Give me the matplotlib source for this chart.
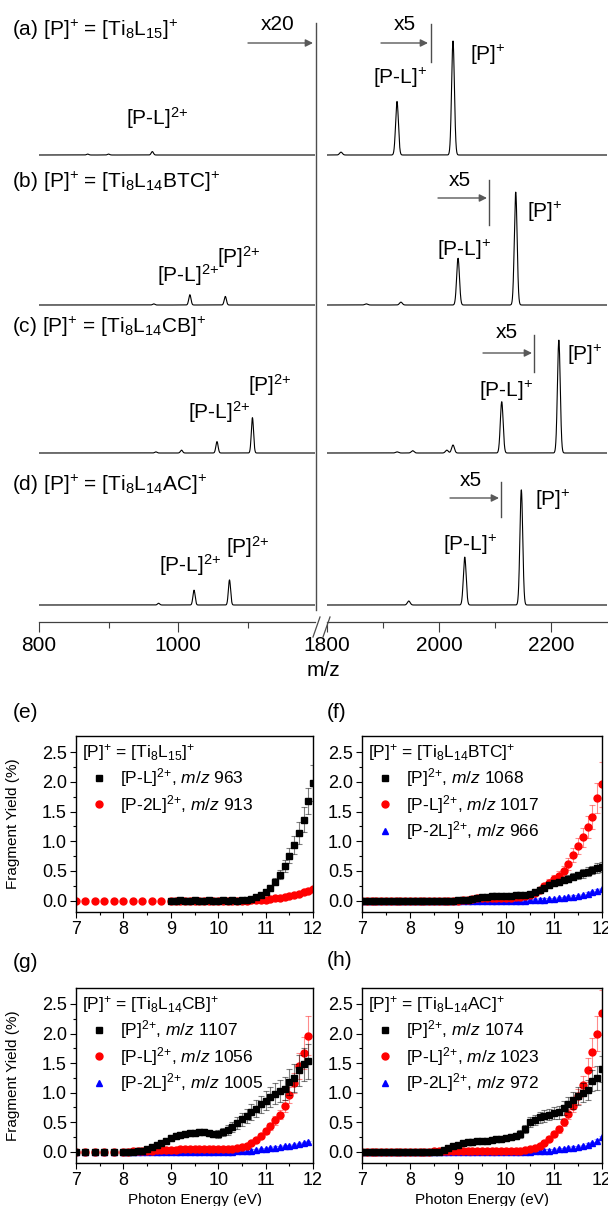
import numpy as np
import matplotlib
matplotlib.use("Agg")
import matplotlib.pyplot as plt
from matplotlib.lines import Line2D
from matplotlib.patches import FancyArrowPatch

plt.rcParams["font.family"] = ["Liberation Sans", "DejaVu Sans"]
plt.rcParams["mathtext.fontset"] = "custom"
plt.rcParams["mathtext.rm"] = "Liberation Sans"
plt.rcParams["mathtext.it"] = "Liberation Sans:italic"
plt.rcParams["mathtext.bf"] = "Liberation Sans:bold"

# %% mass spectra (a)-(d): peak centres (m/z) and heights (relative to [P]+)
a_lo_mz = [870, 900, 963]
a_lo_h = [0.008, 0.008, 0.03]
a_hi_mz = [1825, 1925, 2025]
a_hi_h = [0.025, 0.47, 1.0]

b_lo_mz = [965, 1017, 1068]
b_lo_h = [0.01, 0.09, 0.075]
b_hi_mz = [1870, 1932, 2034, 2137]
b_hi_h = [0.01, 0.025, 0.41, 0.99]

c_lo_mz = [968, 1005, 1056, 1107]
c_lo_h = [0.01, 0.025, 0.10, 0.31]
c_hi_mz = [1925, 1953, 2014, 2025, 2112, 2214]
c_hi_h = [0.01, 0.02, 0.025, 0.07, 0.45, 0.99]

d_lo_mz = [972, 1023, 1074]
d_lo_h = [0.015, 0.13, 0.22]
d_hi_mz = [1946, 2046, 2147]
d_hi_h = [0.035, 0.42, 1.01]

P2 = r"$^{\text{2+}}$"
P1 = r"$^{+}$"
row_titles = [
    r"(a) [P]$^{+}$ = [Ti$_{8}$L$_{15}$]$^{+}$",
    r"(b) [P]$^{+}$ = [Ti$_{8}$L$_{14}$BTC]$^{+}$",
    r"(c) [P]$^{+}$ = [Ti$_{8}$L$_{14}$CB]$^{+}$",
    r"(d) [P]$^{+}$ = [Ti$_{8}$L$_{14}$AC]$^{+}$",
]

# %% fragment yields (e)-(h), photon energy in eV, yield in %
E_e_red = [7.0, 7.2, 7.4, 7.6, 7.8, 8.0, 8.2, 8.4, 8.6, 8.8] + list(np.round(np.arange(9.0, 12.01, 0.1), 1))
E_e_blk = list(np.round(np.arange(9.0, 12.01, 0.1), 1))
e_blk = [0.00, 0.00, 0.01, 0.00, 0.00, 0.01, 0.00, 0.00, 0.01, 0.00, 0.00, 0.01, 0.00, 0.01, 0.00, 0.01, 0.02,
         0.03, 0.06, 0.09, 0.14, 0.22, 0.32, 0.44, 0.58, 0.76, 0.93, 1.14, 1.36, 1.67, 1.98]
e_blk_err = [0.02] * 17 + [0.02, 0.03, 0.03, 0.04, 0.05, 0.06, 0.08, 0.10, 0.12, 0.15, 0.18, 0.21, 0.22, 0.30]
e_red = [0.00] * 10 + [0.00] * 17 + [0.01, 0.01, 0.02, 0.02, 0.03, 0.04, 0.05, 0.06, 0.08, 0.10, 0.12, 0.15, 0.17, 0.20]
e_red_err = [0.01] * 27 + [0.01, 0.01, 0.01, 0.01, 0.01, 0.01, 0.02, 0.02, 0.02, 0.02, 0.02, 0.02, 0.03, 0.03]

E_f = list(np.round(np.arange(7.0, 12.01, 0.1), 1))
f_blk = [0.00] * 20 + [0.01] + \
    [0.01, 0.02, 0.03, 0.05, 0.06, 0.07, 0.08, 0.08, 0.08, 0.08, 0.08, 0.09, 0.09] + \
    [0.10, 0.12, 0.15, 0.18, 0.22, 0.26, 0.29, 0.31, 0.34, 0.37, 0.40, 0.43, 0.46, 0.49, 0.52, 0.55, 0.57]
f_blk_err = [0.02] * 21 + [0.03] * 13 + \
    [0.03, 0.03, 0.04, 0.04, 0.04, 0.05, 0.05, 0.05, 0.05, 0.06, 0.06, 0.06, 0.07, 0.07, 0.07, 0.08, 0.08]
f_red = [0.00] * 21 + \
    [0.01, 0.02, 0.03, 0.04, 0.05, 0.05, 0.05, 0.05, 0.05, 0.05, 0.05, 0.06, 0.07] + \
    [0.08, 0.10, 0.13, 0.18, 0.24, 0.30, 0.36, 0.42, 0.50, 0.62, 0.77, 0.92, 1.07, 1.24, 1.41, 1.73, 1.96]
f_red_err = [0.02] * 21 + [0.03] * 13 + \
    [0.03, 0.03, 0.04, 0.04, 0.05, 0.06, 0.07, 0.08, 0.09, 0.10, 0.12, 0.14, 0.16, 0.18, 0.20, 0.25, 0.38]
f_blu = [0.00] * 34 + \
    [0.00, 0.01, 0.01, 0.02, 0.02, 0.03, 0.03, 0.04, 0.05, 0.06, 0.07, 0.08, 0.10, 0.12, 0.14, 0.17, 0.20]
f_blu_err = [0.02] * 51

E_g = [7.0, 7.2, 7.4, 7.6, 7.8] + list(np.round(np.arange(8.0, 11.91, 0.1), 1))
g_blk = [0.00] * 5 + \
    [0.00, 0.00, 0.00, 0.01, 0.02, 0.05, 0.08, 0.11, 0.15, 0.19,
     0.23, 0.26, 0.28, 0.30, 0.31, 0.32, 0.33, 0.33, 0.32, 0.30,
     0.30, 0.33, 0.37, 0.42, 0.48, 0.55, 0.60, 0.67, 0.73, 0.80,
     0.86, 0.92, 0.98, 1.03, 1.07, 1.18, 1.25, 1.38, 1.48, 1.53]
g_blk_err = [0.02] * 5 + \
    [0.02, 0.02, 0.02, 0.03, 0.03, 0.03, 0.04, 0.04, 0.04, 0.05,
     0.05, 0.05, 0.05, 0.05, 0.05, 0.05, 0.05, 0.05, 0.05, 0.05,
     0.06, 0.07, 0.08, 0.09, 0.10, 0.11, 0.12, 0.13, 0.14, 0.15,
     0.16, 0.17, 0.18, 0.19, 0.20, 0.22, 0.24, 0.26, 0.28, 0.30]
g_red = [0.00] * 5 + \
    [0.00, 0.00, 0.01, 0.01, 0.02, 0.02, 0.02, 0.03, 0.03, 0.03,
     0.03, 0.03, 0.04, 0.04, 0.04, 0.04, 0.04, 0.04, 0.04, 0.04,
     0.04, 0.04, 0.04, 0.05, 0.06, 0.08, 0.10, 0.14, 0.20, 0.27,
     0.35, 0.43, 0.53, 0.63, 0.77, 0.96, 1.16, 1.45, 1.67, 1.96]
g_red_err = [0.02] * 25 + \
    [0.02, 0.02, 0.02, 0.02, 0.02, 0.03, 0.03, 0.03, 0.04, 0.04,
     0.05, 0.06, 0.07, 0.08, 0.10, 0.13, 0.17, 0.22, 0.27, 0.33]
g_blu = [0.00] * 28 + \
    [0.00, 0.01, 0.01, 0.02, 0.02, 0.03, 0.04, 0.05, 0.06, 0.07, 0.08, 0.09, 0.10, 0.11, 0.13, 0.15, 0.17]
g_blu_err = [0.02] * 45

E_h = list(np.round(np.arange(7.0, 12.01, 0.1), 1))
h_blk = [0.00] * 17 + \
    [0.03, 0.07, 0.10, 0.12, 0.14, 0.16, 0.17, 0.18, 0.18, 0.19, 0.20, 0.21, 0.22, 0.24, 0.25, 0.27, 0.30,
     0.38, 0.50, 0.54, 0.58, 0.60, 0.63, 0.65, 0.67, 0.74, 0.80, 0.87, 0.94, 1.00, 1.04, 1.20, 1.25, 1.40]
h_blk_err = [0.02] * 17 + \
    [0.03, 0.03, 0.03, 0.03, 0.04, 0.04, 0.04, 0.04, 0.04, 0.04, 0.04, 0.04, 0.05, 0.05, 0.05, 0.05, 0.06,
     0.07, 0.08, 0.09, 0.09, 0.10, 0.10, 0.10, 0.11, 0.12, 0.13, 0.14, 0.15, 0.16, 0.17, 0.18, 0.20, 0.22]
h_red = [0.00] * 15 + [0.01, 0.01, 0.02, 0.02, 0.02, 0.02, 0.02, 0.02, 0.02, 0.02,
                       0.02, 0.02, 0.02, 0.02, 0.02, 0.02, 0.02, 0.02, 0.02, 0.03] + \
    [0.04, 0.06, 0.10, 0.15, 0.22, 0.30, 0.38, 0.50, 0.64, 0.78, 0.94, 1.13, 1.38, 1.68, 2.00, 2.35]
h_red_err = [0.02] * 35 + \
    [0.02, 0.02, 0.03, 0.03, 0.04, 0.05, 0.06, 0.07, 0.09, 0.11, 0.13, 0.16, 0.20, 0.25, 0.30, 0.38]
h_blu = [0.00] * 36 + \
    [0.01, 0.01, 0.02, 0.02, 0.03, 0.04, 0.05, 0.06, 0.07, 0.08, 0.10, 0.12, 0.15, 0.19, 0.25]
h_blu_err = [0.02] * 51

# %% layout helpers (pixel positions on a 608 x 1206 canvas)
W, H = 608, 1206


def rect(x0, y0, x1, y1):
    return [x0 / W, 1 - y1 / H, (x1 - x0) / W, (y1 - y0) / H]


def fxy(x, y):
    return (x / W, 1 - y / H)


fig = plt.figure(figsize=(W / 100, H / 100), dpi=100)

# %% spectra
ax_lo = fig.add_axes(rect(39, 10, 315, 622))
ax_hi = fig.add_axes(rect(327, 10, 607, 622))
unit = 114.0  # px per relative intensity unit
base_px = [467, 317, 169, 17]  # baseline height of rows a-d above the m/z axis

lo_sets = [(a_lo_mz, a_lo_h), (b_lo_mz, b_lo_h), (c_lo_mz, c_lo_h), (d_lo_mz, d_lo_h)]
hi_sets = [(a_hi_mz, a_hi_h), (b_hi_mz, b_hi_h), (c_hi_mz, c_hi_h), (d_hi_mz, d_hi_h)]


def spectrum(x, centres, heights, width):
    y = np.zeros_like(x)
    for c, h in zip(centres, heights):
        y += h * np.exp(-0.5 * ((x - c) / width) ** 2)
    return y


x_lo = np.linspace(800, 1197, 4000)
x_hi = np.linspace(1800, 2300, 5000)
for i in range(4):
    b = base_px[i] / unit
    ax_lo.plot(x_lo, b + spectrum(x_lo, *lo_sets[i], 1.6), color="black", lw=0.8)
    ax_hi.plot(x_hi, b + spectrum(x_hi, *hi_sets[i], 2.5), color="black", lw=0.8)

for ax, lim, major, minor in [(ax_lo, (800, 1197), [800, 1000], [900, 1100]),
                              (ax_hi, (1800, 2300), [1800, 2000, 2200], [1900, 2100])]:
    ax.set_xlim(*lim)
    ax.set_ylim(0, 612 / unit)
    ax.set_xticks(major)
    ax.set_xticks(minor, minor=True)
    ax.set_yticks([])
    for s in ["left", "right", "top"]:
        ax.spines[s].set_visible(False)
    ax.spines["bottom"].set_color("0.25")
    ax.spines["bottom"].set_linewidth(0.9)
    ax.tick_params(axis="x", which="major", direction="out", length=7, width=0.8,
                   color="0.25", labelsize=15, pad=3)
    ax.tick_params(axis="x", which="minor", direction="out", length=4, width=0.8, color="0.25")
    ax.patch.set_visible(False)

fig.text(*fxy(323, 670), "m/z", ha="center", va="center", fontsize=15)

# divider and axis break
fig.add_artist(Line2D([316 / W] * 2, [1 - 23 / H, 1 - 610 / H], color="0.3", lw=1.0))
for x0 in (313, 323):
    fig.add_artist(Line2D([x0 / W, (x0 + 7) / W], [1 - 637 / H, 1 - 617 / H], color="0.3", lw=0.9))

# row titles and peak labels
title_y = [30, 182, 327, 485]
for t, y in zip(row_titles, title_y):
    fig.text(*fxy(12, y), t, ha="left", va="center", fontsize=15)

peak_labels = [
    ("[P-L]" + P2, 157, 118), ("[P-L]" + P1, 400, 78), ("[P]" + P1, 488, 55),
    ("[P-L]" + P2, 188, 275), ("[P]" + P2, 239, 257), ("[P-L]" + P1, 464, 250), ("[P]" + P1, 545, 212),
    ("[P-L]" + P2, 219, 412), ("[P]" + P2, 270, 385), ("[P-L]" + P1, 506, 391), ("[P]" + P1, 585, 355),
    ("[P-L]" + P2, 190, 565), ("[P]" + P2, 248, 547), ("[P-L]" + P1, 470, 545), ("[P]" + P1, 553, 500),
]
for t, x, y in peak_labels:
    fig.text(*fxy(x, y), t, ha="center", va="center", fontsize=15)

# magnification arrows: (text, text x, text y, arrow x0, arrow x1, arrow y, bar x, bar y0, bar y1)
mags = [
    ("x20", 278, 24, 248, 313, 43, None, None, None),
    ("x5", 405, 25, 381, 428, 43, 431, 24, 62),
    ("x5", 460, 180, 438, 487, 198, 489, 180, 225),
    ("x5", 507, 333, 483, 532, 353, 534, 335, 372),
    ("x5", 471, 480, 450, 499, 498, 501, 482, 517),
]
for t, tx, ty, a0, a1, ay, bx, b0, b1 in mags:
    fig.text(*fxy(tx, ty), t, ha="center", va="center", fontsize=15)
    fig.add_artist(FancyArrowPatch(fxy(a0, ay), fxy(a1, ay), transform=fig.transFigure,
                                   arrowstyle="-|>", mutation_scale=11, lw=1.0, color="0.35",
                                   shrinkA=0, shrinkB=0))
    if bx is not None:
        fig.add_artist(Line2D([bx / W] * 2, [1 - b0 / H, 1 - b1 / H], color="0.3", lw=1.0))

# %% fragment yield panels
ax_e = fig.add_axes(rect(76, 736, 313, 912))
ax_f = fig.add_axes(rect(362, 736, 602, 912))
ax_g = fig.add_axes(rect(76, 988, 313, 1163))
ax_h = fig.add_axes(rect(362, 988, 602, 1163))

BLK = ("black", "s", 4.3, (0, 0, 0, 0.5))
RED = ("#ff0000", "o", 5.0, (1, 0, 0, 0.45))
BLU = ("#0000ff", "^", 4.8, (0, 0, 1, 0.35))
MZ = r", $\mathit{m/z}$ "

panels = [
    (ax_e, r"[P]$^{+}$ = [Ti$_{8}$L$_{15}$]$^{+}$",
     [(E_e_blk, e_blk, e_blk_err, BLK, "[P-L]" + P2 + MZ + "963"),
      (E_e_red, e_red, e_red_err, RED, "[P-2L]" + P2 + MZ + "913")]),
    (ax_f, r"[P]$^{+}$ = [Ti$_{8}$L$_{14}$BTC]$^{+}$",
     [(E_f, f_blk, f_blk_err, BLK, "[P]" + P2 + MZ + "1068"),
      (E_f, f_red, f_red_err, RED, "[P-L]" + P2 + MZ + "1017"),
      (E_f, f_blu, f_blu_err, BLU, "[P-2L]" + P2 + MZ + "966")]),
    (ax_g, r"[P]$^{+}$ = [Ti$_{8}$L$_{14}$CB]$^{+}$",
     [(E_g, g_blk, g_blk_err, BLK, "[P]" + P2 + MZ + "1107"),
      (E_g, g_red, g_red_err, RED, "[P-L]" + P2 + MZ + "1056"),
      (E_g, g_blu, g_blu_err, BLU, "[P-2L]" + P2 + MZ + "1005")]),
    (ax_h, r"[P]$^{+}$ = [Ti$_{8}$L$_{14}$AC]$^{+}$",
     [(E_h, h_blk, h_blk_err, BLK, "[P]" + P2 + MZ + "1074"),
      (E_h, h_red, h_red_err, RED, "[P-L]" + P2 + MZ + "1023"),
      (E_h, h_blu, h_blu_err, BLU, "[P-2L]" + P2 + MZ + "972")]),
]

for ax, title, series in panels:
    handles, labels = [], []
    for z, (E, y, err, style, lab) in enumerate(series):
        color, marker, ms, ecol = style
        ax.errorbar(E, y, yerr=err, fmt=marker, color=color, ms=ms, mec=color,
                    ecolor=ecol, elinewidth=0.8, capsize=2.2, capthick=0.8, zorder=3 - z)
        handles.append(Line2D([], [], ls="none", marker=marker, color=color, ms=ms))
        labels.append(lab)
    ax.set_xlim(7, 12)
    ax.set_ylim(-0.19, 2.77)
    ax.set_xticks([7, 8, 9, 10, 11, 12])
    ax.set_xticks(np.arange(7.5, 12, 1.0), minor=True)
    ax.set_yticks([0.0, 0.5, 1.0, 1.5, 2.0, 2.5])
    ax.set_yticks(np.arange(0.25, 2.6, 0.5), minor=True)
    ax.yaxis.set_major_formatter(plt.FormatStrFormatter("%.1f"))
    ax.tick_params(which="major", direction="out", length=4.5, width=0.8, labelsize=13, pad=2)
    ax.tick_params(which="minor", direction="out", length=2.5, width=0.8)
    for s in ax.spines.values():
        s.set_linewidth(1.0)
    ax.legend(handles, labels, title=title, loc="upper left", frameon=False,
              fontsize=12.5, title_fontsize=12.5, alignment="left",
              handlelength=2.0, handletextpad=0.2, labelspacing=0.2,
              borderaxespad=0.1, borderpad=0.25)

for ax in (ax_e, ax_g):
    ax.set_ylabel("Fragment Yield (%)", fontsize=11)
    ax.yaxis.set_label_coords(-0.235, 0.5)
for ax in (ax_g, ax_h):
    ax.set_xlabel("Photon Energy (eV)", fontsize=11)
    ax.xaxis.set_label_coords(0.5, -0.17)

for t, x, y in [("(e)", 13, 712), ("(f)", 327, 712), ("(g)", 13, 962), ("(h)", 327, 960)]:
    fig.text(*fxy(x, y), t, ha="left", va="center", fontsize=15)

fig.savefig("out.png", dpi=100)
